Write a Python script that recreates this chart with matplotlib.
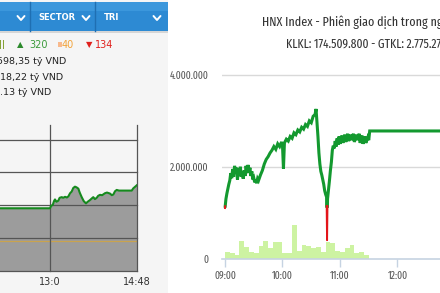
"""
Two intraday index screenshots side by side: a cropped VN-Index panel (left)
and the HNX Index session chart with volume bars (right).
Output: out.png (440x293).
"""

import matplotlib

matplotlib.use("Agg")

import matplotlib.pyplot as plt
import numpy as np
from matplotlib.patches import Rectangle

# ── Left panel: afternoon session (minutes after 13:00) ──────
vn_minutes = [-63, 0, 1.5, 3.4, 5, 6.2, 8, 10.3, 12, 14.6, 16.5, 18.7, 21, 22.8,
              25, 27, 29, 31.1, 33, 35.3, 37, 39.5, 42, 44.8, 47, 49.8, 52, 53.9,
              56, 58.2, 60, 62.3, 65, 68.5, 71, 74.7, 77, 78.9, 81, 83.1, 86,
              89.3, 95, 101.8, 103.8, 107.1, 108]
vn_level = [1.90, 1.90, 1.98, 2.00, 2.12, 2.17, 2.10, 2.13, 2.22, 2.24, 2.22, 2.25,
            2.23, 2.26, 2.36, 2.41, 2.52, 2.56, 2.54, 2.50, 2.38, 2.24, 2.12, 2.05,
            2.10, 2.15, 2.20, 2.24, 2.18, 2.22, 2.28, 2.31, 2.30, 2.36, 2.38, 2.35,
            2.30, 2.32, 2.42, 2.46, 2.44, 2.44, 2.44, 2.44, 2.51, 2.58, 2.60]
vn_ref = 0.91
vn_grid = [0, 1, 2, 3, 4]
vn_ticks = [0, 108]
vn_ticklabels = ["13:0", "14:48"]

# breadth / value rows at the top of the left panel
adv_count, flat_count, dec_count = "320", "40", "134"
value_rows = ["598,35 tỷ VND", "18,22 tỷ VND", ".13 tỷ VND"]
menu_labels = ["SECTOR", "TRI"]

# ── Right panel: HNX Index session (minutes after 09:00) ─────
hnx_minutes = [0, 1, 2, 3, 4, 5, 6, 7, 8, 9, 10, 11, 12, 13, 14, 15, 16, 17, 18, 19,
               20, 21, 22, 23, 24, 25, 26, 27, 28, 29, 30, 31, 32, 33, 34, 35, 37,
               39, 41, 43, 45, 47, 49, 51, 53, 55, 57, 59, 60, 61, 62, 64, 66, 68,
               70, 72, 74, 76, 78, 80, 82, 84, 86, 88, 90, 92, 94, 95, 96, 97, 98,
               99, 100, 101, 102, 103, 104, 105, 106, 106.5, 107, 108, 109, 110,
               111, 112, 113, 114, 115, 116, 117, 118, 119, 120, 122, 123, 125, 126,
               128, 129, 131, 132, 134, 135, 137, 138, 140, 141, 143, 144, 146, 147,
               149, 150, 151, 224]
hnx_level = [1.10, 1.30, 1.42, 1.52, 1.62, 1.70, 1.86, 1.75, 1.95, 1.78, 2.02, 1.85,
             1.98, 1.72, 1.96, 1.80, 2.00, 1.78, 1.90, 1.74, 1.92, 1.80, 2.02, 1.86,
             2.04, 1.88, 1.98, 1.80, 1.90, 1.72, 1.76, 1.66, 1.72, 1.64, 1.74, 1.70,
             1.82, 1.92, 2.06, 2.16, 2.22, 2.30, 2.36, 2.44, 2.38, 2.50, 2.44, 2.54,
             2.46, 1.96, 2.52, 2.60, 2.56, 2.66, 2.62, 2.74, 2.70, 2.80, 2.76, 2.86,
             2.82, 2.92, 2.88, 3.00, 2.96, 3.10, 3.14, 3.26, 2.96, 2.66, 2.30, 2.06,
             1.90, 1.82, 1.72, 1.62, 1.48, 1.40, 1.34, 0.40, 1.30, 1.50, 1.70, 1.92,
             2.10, 2.36, 2.46, 2.40, 2.56, 2.44, 2.62, 2.48, 2.66, 2.50, 2.68, 2.52,
             2.70, 2.54, 2.72, 2.56, 2.70, 2.58, 2.72, 2.54, 2.70, 2.58, 2.72, 2.52,
             2.68, 2.50, 2.66, 2.52, 2.64, 2.58, 2.78, 2.78]
hnx_ref = 1.14

# matched volume per 5-minute bucket, in millions of shares
vol_minutes = list(range(0, 150, 5))
vol_values = [0.15, 0.13, 0.07, 0.39, 0.26, 0.15, 0.13, 0.28, 0.39, 0.22,
              0.35, 0.37, 0.13, 0.13, 0.72, 0.17, 0.30, 0.28, 0.22, 0.26,
              0.15, 0.37, 0.33, 0.17, 0.15, 0.22, 0.30, 0.13, 0.15, 0.07]

y_ticks = [0, 2, 4]
y_ticklabels = ["0", "2.000.000", "4.000.000"]
x_ticks = [0, 60, 120, 180]
x_ticklabels = ["09:00", "10:00", "11:00", "12:00"]

title = "HNX Index - Phiên giao dịch trong ngày"
subtitle = "KLKL: 174.509.800 - GTKL: 2.775.27"

W, H = 440, 293
NARROW = ["Fira Sans Extra Condensed", "DejaVu Sans"]


def px_axes(fig, x0, y0, x1, y1):
    """Axes placed by pixel box (top-left origin)."""
    return fig.add_axes([x0 / W, 1 - y1 / H, (x1 - x0) / W, (y1 - y0) / H])


def split_at_ref(x, y, ref):
    """Insert crossing points so the line can be coloured above/below ref."""
    xs, ys = [x[0]], [y[0]]
    for i in range(1, len(x)):
        if (y[i - 1] - ref) * (y[i] - ref) < 0:
            t = (ref - y[i - 1]) / (y[i] - y[i - 1])
            xs.append(x[i - 1] + t * (x[i] - x[i - 1]))
            ys.append(ref)
        xs.append(x[i])
        ys.append(y[i])
    return np.array(xs), np.array(ys)


fig = plt.figure(figsize=(W / 100, H / 100), dpi=100, facecolor="white")

# ── Background layer in pixel coordinates ────────────────────
bg = fig.add_axes([0, 0, 1, 1], zorder=0)
bg.set_xlim(0, W)
bg.set_ylim(H, 0)
bg.axis("off")

bg.add_patch(Rectangle((0, 0), 168, H, color="#f5f5f5", lw=0))
bg.add_patch(Rectangle((0, 2), 168, 29, color="#2d8ad3", lw=0))
bg.add_patch(Rectangle((0, 2), 168, 9, color="#3b97dc", lw=0))
bg.add_patch(Rectangle((0, 31), 168, 1.5, color="#d6d6d6", lw=0))
for xd in (30, 95):
    bg.plot([xd, xd], [2, 31], color="#1f6fb2", lw=1)
for xc in (21, 86, 157):
    bg.plot([xc - 3.5, xc, xc + 3.5], [16, 20, 16], color="white", lw=1.4,
            solid_capstyle="round")
bg.text(38, 18, menu_labels[0], color="white", fontsize=6, fontweight="bold",
        va="center", ha="left")
bg.text(104, 18, menu_labels[1], color="white", fontsize=6, fontweight="bold",
        va="center", ha="left")

# breadth row
bg.add_patch(Rectangle((0, 40), 1.3, 9, color="#86a236", lw=0))
bg.add_patch(Rectangle((3, 40), 1.3, 9, color="#86a236", lw=0))
bg.text(17, 45, "▲", color="#2c8a2c", fontsize=6, va="center", ha="left")
bg.text(29, 45, adv_count, color="#3a9a3a", fontsize=7, va="center", ha="left")
bg.add_patch(Rectangle((57.5, 42), 4, 5, color="#f8b98c", lw=0))
bg.text(62, 45, flat_count, color="#f2a33a", fontsize=7, va="center", ha="left")
bg.text(86, 45, "▼", color="#e0201c", fontsize=6, va="center", ha="left")
bg.text(95, 45, dec_count, color="#e0201c", fontsize=7, va="center", ha="left")

for yy, xx, label in zip([61.5, 77, 92.5], [-3, 0, 0], value_rows):
    bg.text(xx, yy, label, color="#222222", fontsize=6.8, va="center", ha="left")

# right-panel headings
bg.text(262, 22, title, color="#333333", fontsize=9.4, family=NARROW,
        va="center", ha="left")
bg.text(286, 44, subtitle, color="#333333", fontsize=9, family=NARROW,
        va="center", ha="left")

# ── Left chart (cropped) ─────────────────────────────────────
axl = px_axes(fig, 0, 125, 136.7, 270.5)
axl.set_facecolor("none")
axl.set_xlim(-62.3, 108)
axl.set_ylim(0, 4.443)
axl.fill_between(vn_minutes, vn_level, 0, color="#9c9c9c", lw=0, zorder=1)
axl.axhline(vn_ref, color="#c9a34e", lw=0.9, zorder=2)
for g in vn_grid:
    axl.axhline(g, color="#555555", lw=0.9, zorder=3, clip_on=False)
for g in vn_ticks:
    axl.axvline(g, color="#555555", lw=0.9, zorder=3, clip_on=False)
axl.plot(vn_minutes, vn_level, color="#168a1e", lw=1.5, zorder=4)
for s in axl.spines.values():
    s.set_visible(False)
axl.set_yticks([])
axl.set_xticks(vn_ticks)
axl.set_xticklabels(vn_ticklabels)
axl.tick_params(axis="x", length=0, pad=5, labelsize=7, labelcolor="#333333")

# ── Right chart: HNX Index ───────────────────────────────────
axr = px_axes(fig, 222, 60, 440, 258.5)
axr.set_facecolor("none")
axr.set_xlim(-3.13, 224.35)
axr.set_ylim(0, 4.327)

axr.bar(vol_minutes, vol_values, width=5, align="edge", color="#cdf3a2", lw=0,
        zorder=1)
for g in y_ticks[1:]:
    axr.axhline(g, color="#d9d9d9", lw=1, zorder=0)

lx, ly = split_at_ref(hnx_minutes, hnx_level, hnx_ref)
axr.plot(lx, np.where(ly >= hnx_ref, ly, np.nan), color="#13992f", lw=2.2,
         zorder=3, solid_joinstyle="miter")
axr.plot(lx, np.where(ly <= hnx_ref, ly, np.nan), color="#e3151a", lw=1.4,
         zorder=4)

for side in ("top", "right", "left"):
    axr.spines[side].set_visible(False)
axr.spines["bottom"].set_color("#c6d3e2")
axr.spines["bottom"].set_linewidth(1.2)

axr.set_yticks(y_ticks)
axr.set_yticklabels(y_ticklabels, family=NARROW)
axr.tick_params(axis="y", length=0, pad=10, labelsize=7.5, labelcolor="#555555")
axr.set_xticks(x_ticks)
axr.set_xticklabels(x_ticklabels, family=NARROW)
axr.tick_params(axis="x", length=6, width=1, color="#c6d3e2", pad=3,
                labelsize=7.5, labelcolor="#555555")

fig.savefig("out.png", dpi=100, facecolor="white")
